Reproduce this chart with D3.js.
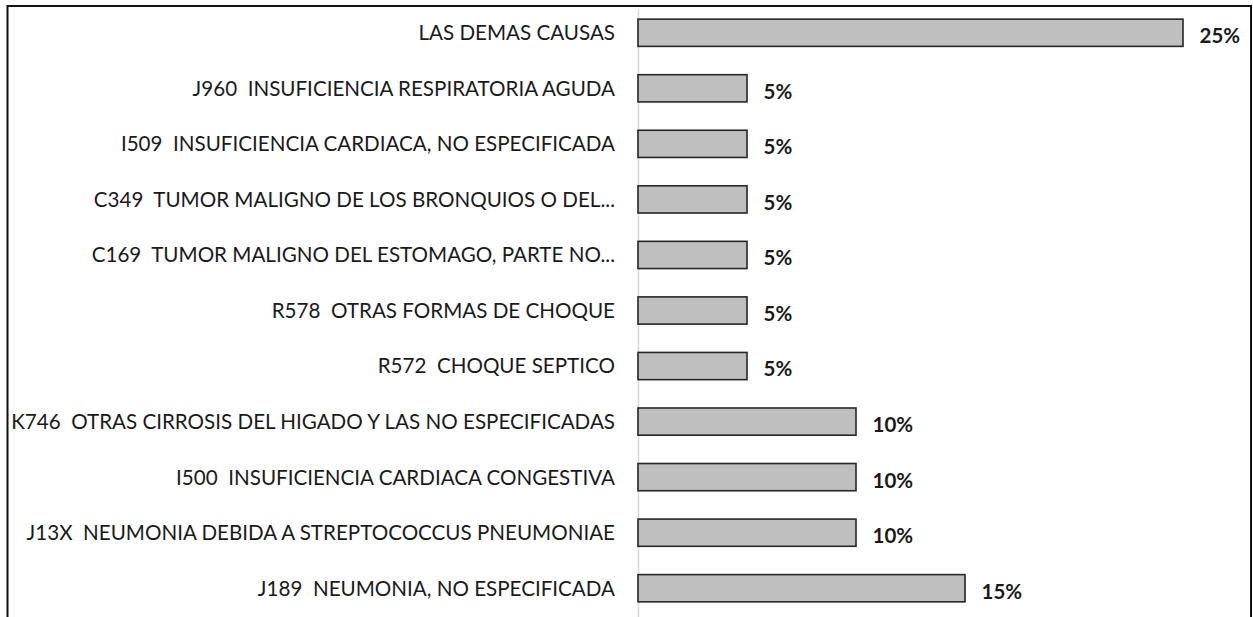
<!DOCTYPE html>
<html>
<head>
<meta charset="utf-8">
<script src="https://cdn.jsdelivr.net/npm/d3@7"></script>
<style>
  html, body { margin: 0; padding: 0; background: #fff; }
</style>
</head>
<body>
<div id="wrapper"></div>
<script>
const categories = [
  "LAS DEMAS CAUSAS",
  "J960  INSUFICIENCIA RESPIRATORIA AGUDA",
  "I509  INSUFICIENCIA CARDIACA, NO ESPECIFICADA",
  "C349  TUMOR MALIGNO DE LOS BRONQUIOS O DEL...",
  "C169  TUMOR MALIGNO DEL ESTOMAGO, PARTE NO...",
  "R578  OTRAS FORMAS DE CHOQUE",
  "R572  CHOQUE SEPTICO",
  "K746  OTRAS CIRROSIS DEL HIGADO Y LAS NO ESPECIFICADAS",
  "I500  INSUFICIENCIA CARDIACA CONGESTIVA",
  "J13X  NEUMONIA DEBIDA A STREPTOCOCCUS PNEUMONIAE",
  "J189  NEUMONIA, NO ESPECIFICADA",
];
const values = [25, 5, 5, 5, 5, 5, 5, 10, 10, 10, 15];
const valueLabels = ["25%", "5%", "5%", "5%", "5%", "5%", "5%", "10%", "10%", "10%", "15%"];

const dimensions = {
  width: 1253,
  height: 617,
  axisX: 638,
  top: 5,
  bottom: 616,
};

const data = categories.map((c, i) => ({ cat: c, val: values[i], label: valueLabels[i] }));

const svg = d3.select("#wrapper")
  .append("svg")
  .attr("width", dimensions.width)
  .attr("height", dimensions.height)
  .style("display", "block");

// chart border (runs off the bottom of the picture)
svg.append("rect")
  .attr("x", 7.5)
  .attr("y", 6)
  .attr("width", 1243.5)
  .attr("height", 640)
  .attr("fill", "#fff")
  .attr("stroke", "#111")
  .attr("stroke-width", 2);

/* SCALES */
const xScale = d3.scaleLinear()
  .domain([0, 5])
  .range([dimensions.axisX, dimensions.axisX + 109]);

const yScale = d3.scaleBand()
  .domain(categories)
  .range([dimensions.top, dimensions.bottom])
  .paddingInner(0.51)
  .paddingOuter(0.255);

/* AXIS */
const yAxis = svg.append("g")
  .attr("transform", `translate(${dimensions.axisX},0)`)
  .call(d3.axisLeft(yScale).tickSize(0).tickPadding(23));

yAxis.select(".domain")
  .attr("d", `M0.5,9V${dimensions.height}`)
  .attr("stroke", "#d9d9d9")
  .attr("stroke-width", 1.5);

yAxis.selectAll(".tick text")
  .attr("font-family", "Lato, 'Open Sans', sans-serif")
  .attr("font-size", 20.6)
  .attr("fill", "#1a1a1a")
  .attr("dy", "0.36em")
  .style("white-space", "pre");

/* BARS */
svg.append("g")
  .selectAll("rect")
  .data(data)
  .join("rect")
  .attr("x", xScale(0))
  .attr("y", (d) => yScale(d.cat))
  .attr("width", (d) => xScale(d.val) - xScale(0))
  .attr("height", yScale.bandwidth())
  .attr("fill", "#bfbfbf")
  .attr("stroke", "#262626")
  .attr("stroke-width", 1.6);

/* VALUE LABELS */
svg.append("g")
  .selectAll("text")
  .data(data)
  .join("text")
  .attr("x", (d) => xScale(d.val) + 16.5)
  .attr("y", (d) => yScale(d.cat) + yScale.bandwidth() / 2 + 3)
  .attr("dy", "0.36em")
  .attr("font-family", "Lato, 'Open Sans', sans-serif")
  .attr("font-weight", "bold")
  .attr("font-size", 20.5)
  .attr("fill", "#1a1a1a")
  .text((d) => d.label);
</script>
</body>
</html>
